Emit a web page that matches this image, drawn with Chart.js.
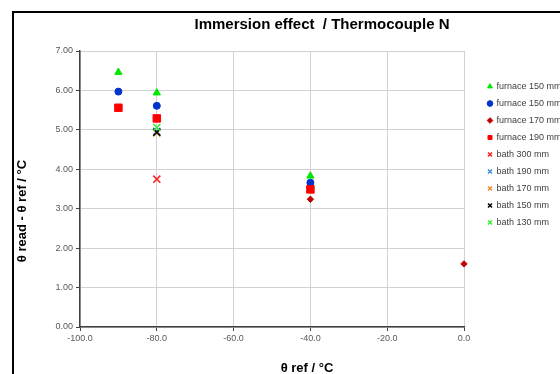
<!DOCTYPE html>
<html>
<head>
<meta charset="utf-8">
<script src="https://cdn.jsdelivr.net/npm/chart.js@4.4.1/dist/chart.umd.min.js"></script>
<style>
  html, body { margin: 0; padding: 0; background: #fff; overflow: hidden; }
  #moldura { position: absolute; left: 12px; top: 11px; width: 600px; height: 400px;
             border-left: 2px solid #000; border-top: 2px solid #000; pointer-events: none; }
</style>
</head>
<body>
<canvas id="myChart" width="568" height="374"></canvas>
<div id="moldura"></div>
<script>
// Dados
var nomesSeries = ['furnace 150 mm', 'furnace 150 mm', 'furnace 170 mm', 'furnace 190 mm',
  'bath 300 mm', 'bath 190 mm', 'bath 170 mm', 'bath 150 mm', 'bath 130 mm'];

var xFurnace150a = [-90, -80, -40];
var yFurnace150a = [6.46, 5.94, 3.83];
var xFurnace150b = [-90, -80, -40];
var yFurnace150b = [5.97, 5.61, 3.66];
var xFurnace170 = [-40, 0];
var yFurnace170 = [3.24, 1.60];
var xFurnace190 = [-90, -80, -40];
var yFurnace190 = [5.56, 5.29, 3.49];
var xBath300 = [-80];
var yBath300 = [3.75];
var xBath190 = [-80];
var yBath190 = [4.96];
var xBath170 = [-80];
var yBath170 = [4.92];
var xBath150 = [-80];
var yBath150 = [4.94];
var xBath130 = [-80];
var yBath130 = [5.06];

var ticksX = [-100, -80, -60, -40, -20, 0];
var ticksY = [0, 1, 2, 3, 4, 5, 6, 7];

function pontos(xs, ys) {
  return xs.map(function (x, i) { return { x: x, y: ys[i] }; });
}

var estilos = [
  { cor: '#00e600', forma: 'triangle', raio: 4.2 },
  { cor: '#0033cc', forma: 'circle', raio: 3.5 },
  { cor: '#c00000', forma: 'rectRot', raio: 3.2 },
  { cor: '#ff0000', forma: 'rect', raio: 5.3 },
  { cor: '#ff2020', forma: 'crossRot', raio: 5 },
  { cor: '#3b8fd9', forma: 'crossRot', raio: 5 },
  { cor: '#f08a30', forma: 'crossRot', raio: 5 },
  { cor: '#000000', forma: 'crossRot', raio: 5 },
  { cor: '#33ee33', forma: 'crossRot', raio: 5 }
];

var valores = [
  pontos(xFurnace150a, yFurnace150a),
  pontos(xFurnace150b, yFurnace150b),
  pontos(xFurnace170, yFurnace170),
  pontos(xFurnace190, yFurnace190),
  pontos(xBath300, yBath300),
  pontos(xBath190, yBath190),
  pontos(xBath170, yBath170),
  pontos(xBath150, yBath150),
  pontos(xBath130, yBath130)
];

var datasets = valores.map(function (dados, i) {
  var e = estilos[i];
  return {
    label: nomesSeries[i],
    data: dados,
    order: nomesSeries.length - i, // como no Excel: série seguinte por cima
    clip: false,
    pointStyle: e.forma,
    pointRadius: e.raio,
    pointHoverRadius: e.raio,
    backgroundColor: e.cor,
    borderColor: e.cor,
    borderWidth: e.forma === 'crossRot' ? 1.5 : 1,
    showLine: false
  };
});

// Títulos desenhados na posição do original
var titulos = {
  id: 'titulos',
  afterDraw: function (chart) {
    var c = chart.ctx;
    c.save();
    c.fillStyle = '#000';
    c.textAlign = 'center';
    c.textBaseline = 'middle';
    c.font = 'bold 15px "Liberation Sans", Arial, sans-serif';
    c.fillText('Immersion effect  / Thermocouple N', 322, 25);
    c.font = 'bold 13px "Liberation Sans", Arial, sans-serif';
    c.fillText('θ ref / °C', 307, 368);
    c.translate(22, 211);
    c.rotate(-Math.PI / 2);
    c.fillText('θ read - θ ref / °C', 0, 0);
    c.restore();
  }
};

var fonteTicks = { family: '"Liberation Sans", Arial, sans-serif', size: 9 };

var ctx = document.getElementById('myChart').getContext('2d');
var myChart = new Chart(ctx, {
  type: 'scatter',
  data: { datasets: datasets },
  plugins: [titulos],
  options: {
    responsive: false,
    animation: false,
    layout: { padding: { top: 51, left: 0, right: 0, bottom: 0 } },
    plugins: {
      tooltip: { enabled: false },
      legend: {
        position: 'right',
        align: 'start',
        fullSize: false,
        maxWidth: 88,
        title: { display: true, text: ' ', font: { size: 9 }, padding: { top: 12.2, bottom: 0 } },
        labels: {
          usePointStyle: true,
          boxWidth: 4,
          boxHeight: 4,
          padding: 8,
          color: '#404040',
          font: fonteTicks,
          sort: function (a, b) { return a.datasetIndex - b.datasetIndex; }
        }
      }
    },
    scales: {
      x: {
        type: 'linear',
        min: ticksX[0],
        max: ticksX[ticksX.length - 1],
        afterBuildTicks: function (s) { s.ticks = ticksX.map(function (v) { return { value: v }; }); },
        afterFit: function (s) { s.height = 47; },
        grid: { color: '#d2d2d2', tickColor: '#404040', tickLength: 4 },
        border: { color: '#404040', width: 1.5 },
        ticks: {
          color: '#595959', font: fonteTicks, padding: 2, maxRotation: 0,
          callback: function (v) { return v.toFixed(1); }
        }
      },
      y: {
        type: 'linear',
        min: ticksY[0],
        max: ticksY[ticksY.length - 1],
        afterBuildTicks: function (s) { s.ticks = ticksY.map(function (v) { return { value: v }; }); },
        afterFit: function (s) { s.width = 80; },
        grid: { color: '#d2d2d2', tickColor: '#404040', tickLength: 4 },
        border: { color: '#404040', width: 1.5 },
        ticks: {
          color: '#595959', font: fonteTicks, padding: 3,
          callback: function (v) { return v.toFixed(2); }
        }
      },
      // eixo vazio só para afastar a legenda da área do gráfico
      espaco: {
        type: 'linear',
        position: 'right',
        display: true,
        grid: { display: false, drawTicks: false },
        border: { display: false },
        ticks: { display: false },
        afterFit: function (s) { s.width = 16; }
      }
    }
  }
});
</script>
</body>
</html>
